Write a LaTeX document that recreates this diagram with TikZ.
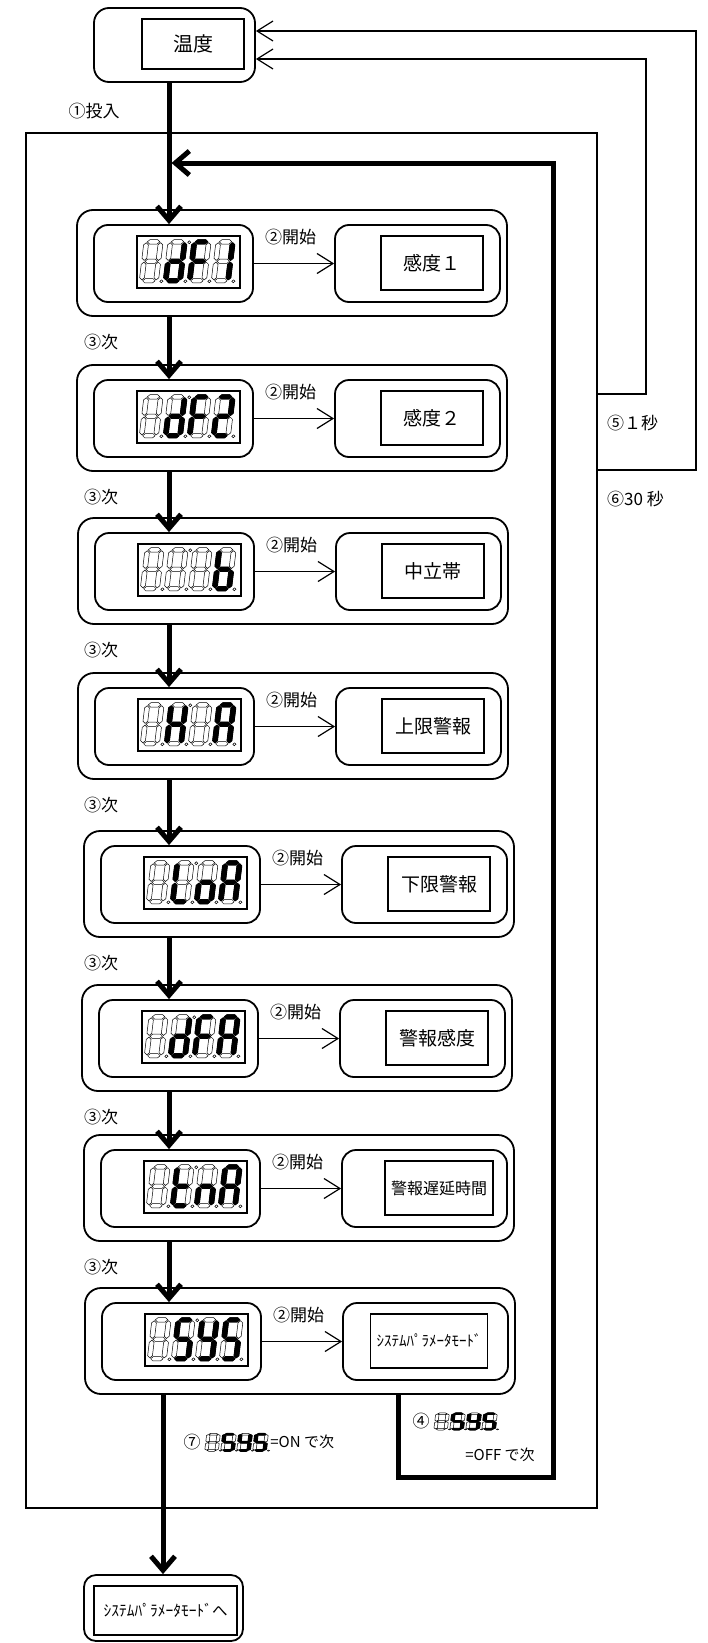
\documentclass[tikz,border=0pt]{standalone}
\usepackage{fontspec}
\setmainfont{Noto Sans CJK JP}
\usetikzlibrary{arrows.meta,positioning}

% Segments of one 7-segment digit (16 x 40, y pointing down)
\newcommand{\segA}{(2.8,2)--(4.8,0)--(11.2,0)--(13.2,2)--(11.2,4)--(4.8,4)--cycle}
\newcommand{\segG}{(2.8,20)--(4.8,18)--(11.2,18)--(13.2,20)--(11.2,22)--(4.8,22)--cycle}
\newcommand{\segD}{(2.8,38)--(4.8,36)--(11.2,36)--(13.2,38)--(11.2,40)--(4.8,40)--cycle}
\newcommand{\segF}{(2,2.8)--(4,4.8)--(4,17.2)--(2,19.2)--(0,17.2)--(0,4.8)--cycle}
\newcommand{\segB}{(14,2.8)--(16,4.8)--(16,17.2)--(14,19.2)--(12,17.2)--(12,4.8)--cycle}
\newcommand{\segE}{(2,20.8)--(4,22.8)--(4,35.2)--(2,37.2)--(0,35.2)--(0,22.8)--cycle}
\newcommand{\segC}{(14,20.8)--(16,22.8)--(16,35.2)--(14,37.2)--(12,35.2)--(12,22.8)--cycle}
\newcommand{\segX}{(0,0)}

% Lit segments of each character
\newcommand{\chX}{X}
\newcommand{\chd}{B,C,D,E,G}
\newcommand{\chF}{A,E,F,G}
\newcommand{\chI}{B,C}
\newcommand{\chII}{A,B,D,E,G}
\newcommand{\chb}{C,D,E,F,G}
\newcommand{\chH}{B,C,E,F,G}
\newcommand{\chA}{A,B,C,E,F,G}
\newcommand{\chL}{D,E,F}
\newcommand{\cho}{C,D,E,G}
\newcommand{\cht}{D,E,F,G}
\newcommand{\chn}{C,E,G}
\newcommand{\chS}{A,C,D,F,G}
\newcommand{\chY}{B,C,D,F,G}

\newcommand{\sevenseg}[3]{%
  \begin{scope}[shift={#1}, xslant=0.12, #2]
    \foreach \s in {A,B,C,D,E,F,G}
      \draw[segoff] \csname seg\s\endcsname;
    \edef\seglist{\csname ch#3\endcsname}
    \foreach \s in \seglist
      \filldraw[segon] \csname seg\s\endcsname;
    \draw[segoff] (18.5,38.5) circle (1.3);
  \end{scope}}

\newcommand{\segdisplay}[7]{%
  \begin{scope}[shift={#1}]
    \sevenseg{(0,0)}{#3}{#4}
    \sevenseg{(#2,0)}{#3}{#5}
    \sevenseg{(2*#2,0)}{#3}{#6}
    \sevenseg{(3*#2,0)}{#3}{#7}
  \end{scope}}

\begin{document}
\begin{tikzpicture}[x=1pt, y=-1pt,
    box/.style={draw, line width=1.8pt, rounded corners=15pt, fill=white},
    grp/.style={draw, line width=1.8pt, rounded corners=16pt, minimum width=430pt, minimum height=106pt},
    inbox/.style={draw, line width=1.8pt, rounded corners=14pt, minimum height=77pt},
    disp/.style={draw, line width=1.6pt, minimum width=103pt, minimum height=52pt, inner sep=0pt},
    tbox/.style={draw, line width=1.5pt, minimum width=102pt, minimum height=54pt, inner sep=6pt, font=\fontsize{19}{22}\selectfont},
    lbl/.style={font=\fontsize{17}{20}\selectfont, inner sep=1pt},
    flow/.style={line width=5pt, -{Straight Barb[length=14pt,width=24pt]}},
    go/.style={line width=1.2pt, -{Straight Barb[length=16pt,width=20pt]}},
    segoff/.style={line width=0.5pt},
    segon/.style={fill=black, draw=black, line width=0.9pt, line join=round}]

    \useasboundingbox (0,0) rectangle (707,1643);

    % Draw the outer frame
    \node[draw, line width=1.3pt, minimum width=571pt, minimum height=1375pt] (frame) at (311.5,820.5) {};

    % Temperature box at the top
    \node[box, minimum width=161pt, minimum height=74pt] (top) at (174.5,45) {};
    \node[tbox, minimum width=102pt, minimum height=50pt, font=\fontsize{20}{22}\selectfont] (temp) at (193,44) {温度};

    % Helper coordinates for the lines
    \coordinate (col) at (169,0);
    \coordinate (col2) at (163,0);
    \coordinate (lab) at (101,0);
    \coordinate (k1) at (646,394);
    \coordinate (k30) at (696,470);
    \coordinate (rl) at (398,1477);
    \coordinate (rr) at (553,1477);
    \coordinate (rt) at (553,163);

    % Draw the eight setting groups
    \foreach \gx/\gy/\ca/\cb/\cc/\cd/\txt/\tx [count=\i] in {
        77/210/X/d/F/I/{感度１}/355,
        77/365/X/d/F/II/{感度２}/355,
        78/518/X/X/X/b/{中立帯}/355,
        78/673/X/H/X/A/{上限警報}/355,
        84/831/X/L/o/A/{下限警報}/355,
        82/985/X/d/F/A/{警報感度}/355,
        84/1135/X/t/n/A/{\fontsize{16}{18}\selectfont 警報遅延時間}/355,
        85/1288/X/S/Y/S/{\fontsize{15}{18}\selectfont ｼｽﾃﾑﾊﾟﾗﾒｰﾀﾓｰﾄﾞ}/344} {
        \node[grp] (g\i) at (\gx+215,\gy+53) {};
        \node[inbox, minimum width=159pt] (li\i) at (\gx+96.5,\gy+53.5) {};
        \node[inbox, minimum width=165pt] (ri\i) at (\gx+340.5,\gy+53.5) {};
        \node[disp] (dp\i) at (\gx+111.5,\gy+52) {};
        \node[tbox] (tb\i) at (\gx+\tx,\gy+53) {\txt};
        \segdisplay{([xshift=8pt,yshift=-4.5pt]dp\i.north west)}{24}{xscale=1.2,yscale=1.08}{\ca}{\cb}{\cc}{\cd}
        \draw[segoff] ([xshift=53pt,yshift=-7pt]dp\i.north west) circle (1.5);
        \draw[go] (li\i) -- (ri\i);
        \node[lbl, anchor=north west] (st\i) at ([xshift=10pt,yshift=-4pt]li\i.north east) {②開始};
    }

    % Thick flow down the left column
    \draw[flow] (top.south -| col) -- (li1.north -| col);
    \foreach \i [evaluate=\i as \j using int(\i+1)] in {1,...,7} {
        \draw[flow] (g\i.south -| col) -- (li\j.north -| col);
        \node[lbl, yshift=-25pt] (nx\i) at (g\i.south -| lab) {③次};
    }
    \node[lbl] (in) at (94,111) {①投入};

    % Return loop back to the first setting
    \draw[flow, shorten >=2.5pt] (g8.south -| rl) -- (rl) -- (rr) -- (rt) -- (rt -| col);

    % Exit to the system parameter mode
    \node[box, minimum width=159pt, minimum height=66pt, rounded corners=12pt] (sysout) at (163.5,1608) {};
    \node[tbox, minimum width=143pt, minimum height=49pt, font=\fontsize{15.5}{18}\selectfont] (sys) at (165.5,1610.5) {ｼｽﾃﾑﾊﾟﾗﾒｰﾀﾓｰﾄﾞへ};
    \draw[flow] (g8.south -| col2) -- (sysout.north -| col2);

    % Timeout lines back to the temperature display
    \draw[go] (frame.east |- k1) -- (k1) |- ([yshift=-14pt]top.east);
    \draw[go] (frame.east |- k30) -- (k30) |- ([yshift=14pt]top.east);
    \node[lbl, anchor=west] (s1) at (606,423) {⑤１秒};
    \node[lbl, anchor=west] (s30) at (606,499) {⑥30 秒};

    % Small displays with the switch conditions
    \node[minimum width=65pt, minimum height=19pt, inner sep=0pt] (m7) at (235.5,1442) {};
    \node[lbl, left=1pt of m7] (n7) {⑦};
    \node[lbl, right=1pt of m7, font=\fontsize{15}{17}\selectfont] (on7) {=ON で次};
    \segdisplay{([xshift=4pt,yshift=-1pt]m7.north west)}{16}{xscale=0.85,yscale=0.45}{X}{S}{Y}{S}

    \node[minimum width=66pt, minimum height=18pt, inner sep=0pt] (m4) at (465,1421) {};
    \node[lbl, left=1pt of m4] (n4) {④};
    \node[lbl, font=\fontsize{15}{17}\selectfont] (off4) at (500,1455) {=OFF で次};
    \segdisplay{([xshift=4pt,yshift=-1pt]m4.north west)}{16}{xscale=0.85,yscale=0.43}{X}{S}{Y}{S}

\end{tikzpicture}
\end{document}
